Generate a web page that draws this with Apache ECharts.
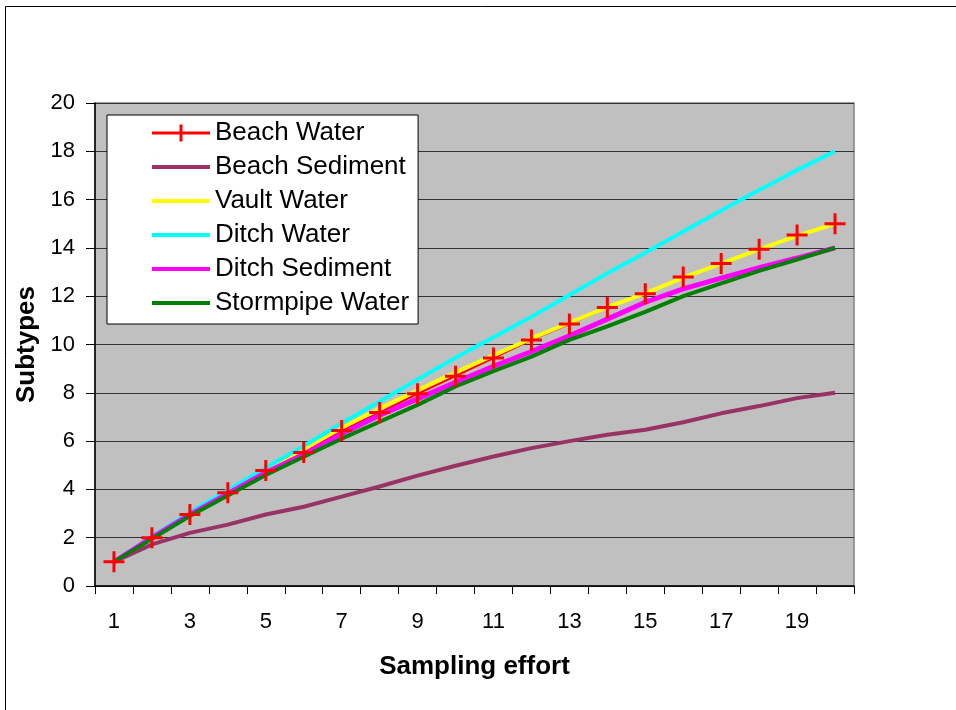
<!DOCTYPE html>
<html>
<head>
<meta charset="utf-8">
<script src="https://cdn.jsdelivr.net/npm/echarts@6/dist/echarts.min.js"></script>
<style>
  html, body { margin: 0; padding: 0; background: #fff; }
  #chart { width: 956px; height: 710px; }
</style>
</head>
<body>
<div id="chart"></div>
<script>
// Sampling effort (number of samples) on the category axis
const categories = ['1','2','3','4','5','6','7','8','9','10','11','12','13','14','15','16','17','18','19','20'];

// Cumulative number of subtypes found per sample type
const beachWater     = [1, 2, 2.96, 3.86, 4.78, 5.53, 6.44, 7.18, 7.96, 8.69, 9.44, 10.19, 10.85, 11.53, 12.1, 12.79, 13.35, 13.94, 14.53, 15];
const beachSediment  = [1, 1.72, 2.2, 2.54, 2.96, 3.28, 3.7, 4.12, 4.57, 4.98, 5.36, 5.71, 6.0, 6.26, 6.47, 6.78, 7.15, 7.45, 7.78, 8];
const vaultWater     = [1, 2.02, 3.0, 3.93, 4.87, 5.66, 6.55, 7.35, 8.1, 8.85, 9.55, 10.25, 10.9, 11.55, 12.12, 12.77, 13.35, 13.94, 14.5, 15];
const ditchWater     = [1, 2.05, 3.05, 3.97, 4.9, 5.8, 6.74, 7.64, 8.55, 9.45, 10.3, 11.15, 12.05, 12.95, 13.8, 14.68, 15.55, 16.4, 17.22, 18];
const ditchSediment  = [1, 2, 2.95, 3.82, 4.7, 5.45, 6.3, 7.07, 7.75, 8.43, 9.1, 9.71, 10.36, 11.05, 11.75, 12.3, 12.75, 13.18, 13.58, 14];
const stormpipeWater = [1, 1.95, 2.9, 3.75, 4.6, 5.35, 6.1, 6.8, 7.5, 8.26, 8.9, 9.5, 10.19, 10.75, 11.35, 12.0, 12.53, 13.05, 13.52, 14];

const FONT = "'Liberation Sans', Arial, Helvetica, sans-serif";

// plus-shaped marker made of two filled bars
const plusSymbol = 'path://M0,9 H21 V12 H0 Z M9,0 H12 V21 H9 Z';
// legend icons: a thin invisible sliver fixes the box to 58x26 so the bar keeps its thickness
const legendLine = 'path://M0,0 H0.01 V26 H0 Z M0,11 H58 V15 H0 Z';
const legendLinePlus = 'path://M0,0 H0.01 V26 H0 Z M0,11.5 H58 V14.5 H0 Z M27.5,4.5 H30.5 V21.5 H27.5 Z';

const chart = echarts.init(document.getElementById('chart'), null, { renderer: 'canvas' });

function lineSeries(name, data, color, width) {
  return {
    name: name,
    type: 'line',
    data: data,
    symbol: 'none',
    smooth: false,
    color: color,
    lineStyle: { color: color, width: width },
    emphasis: { disabled: true },
    animation: false
  };
}

const option = {
  animation: false,
  textStyle: { fontFamily: FONT },
  graphic: [
    {
      type: 'rect',
      shape: { x: 5.5, y: 6.5, width: 970, height: 730 },
      style: { fill: 'none', stroke: '#000', lineWidth: 1 },
      z: 0
    }
  ],
  grid: {
    left: 95, top: 103, width: 759, height: 483,
    show: true,
    backgroundColor: '#C0C0C0',
    borderColor: '#808080',
    borderWidth: 1.5
  },
  legend: {
    orient: 'vertical',
    left: 107, top: 115,
    padding: [5, 9, 8, 45],
    backgroundColor: '#fff',
    borderColor: '#000',
    borderWidth: 1,
    itemWidth: 58,
    itemHeight: 26,
    itemGap: 8,
    selectedMode: false,
    itemStyle: { borderWidth: 0 },
    textStyle: { fontFamily: FONT, fontSize: 26, color: '#000', lineHeight: 26, padding: [0, 0, 0, 0] },
    data: [
      { name: 'Beach Water', icon: legendLinePlus, itemStyle: { color: '#FF0000' } },
      { name: 'Beach Sediment', icon: legendLine, itemStyle: { color: '#993366' } },
      { name: 'Vault Water', icon: legendLine, itemStyle: { color: '#FFFF00' } },
      { name: 'Ditch Water', icon: legendLine, itemStyle: { color: '#00FFFF' } },
      { name: 'Ditch Sediment', icon: legendLine, itemStyle: { color: '#FF00FF' } },
      { name: 'Stormpipe Water', icon: legendLine, itemStyle: { color: '#008000' } }
    ]
  },
  xAxis: {
    type: 'category',
    data: categories,
    boundaryGap: true,
    name: 'Sampling effort',
    nameLocation: 'middle',
    nameGap: 68,
    nameTextStyle: { fontFamily: FONT, fontSize: 26, fontWeight: 'bold', color: '#000' },
    axisLine: { show: true, lineStyle: { color: '#000', width: 1.5 } },
    axisTick: { show: true, interval: 0, length: 8, lineStyle: { color: '#000', width: 1 } },
    axisLabel: { interval: 1, margin: 25, fontFamily: FONT, fontSize: 22, color: '#000' },
    splitLine: { show: false }
  },
  yAxis: {
    type: 'value',
    min: 0, max: 20, interval: 2,
    name: 'Subtypes',
    nameLocation: 'middle',
    nameRotate: 90,
    nameGap: 55,
    nameTextStyle: { fontFamily: FONT, fontSize: 26, fontWeight: 'bold', color: '#000' },
    axisLine: { show: true, lineStyle: { color: '#000', width: 1.5 } },
    axisTick: { show: true, length: 9, lineStyle: { color: '#000', width: 1 } },
    axisLabel: { margin: 20, fontFamily: FONT, fontSize: 22, color: '#000' },
    splitLine: { show: true, lineStyle: { color: '#333', width: 1.2 } }
  },
  series: [
    // red connecting line sits under the other series
    lineSeries('Beach Water', beachWater, '#FF0000', 2),
    lineSeries('Beach Sediment', beachSediment, '#993366', 4),
    lineSeries('Vault Water', vaultWater, '#FFFF00', 4),
    lineSeries('Ditch Water', ditchWater, '#00FFFF', 4),
    lineSeries('Ditch Sediment', ditchSediment, '#FF00FF', 5),
    lineSeries('Stormpipe Water', stormpipeWater, '#008000', 4),
    // plus markers for Beach Water drawn above every line
    {
      name: 'Beach Water',
      type: 'line',
      data: beachWater,
      symbol: plusSymbol,
      symbolSize: [21, 21],
      showSymbol: true,
      color: '#FF0000',
      itemStyle: { color: '#FF0000', borderWidth: 0 },
      lineStyle: { width: 0, opacity: 0 },
      emphasis: { disabled: true },
      z: 5,
      animation: false
    }
  ]
};

chart.setOption(option);
</script>
</body>
</html>
